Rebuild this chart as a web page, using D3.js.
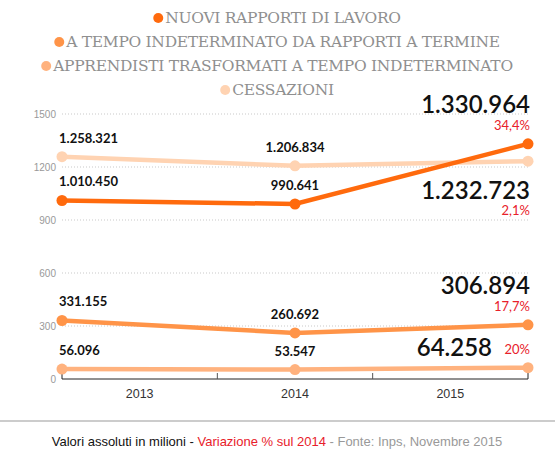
<!DOCTYPE html>
<html><head><meta charset="utf-8">
<script src="https://cdn.jsdelivr.net/npm/d3@7"></script>
<style>
body{margin:0;background:#fff;}
text{font-family:Lato,"Open Sans",sans-serif;}
</style></head>
<body><svg id="c" width="555" height="460"></svg>
<script>
const years = ['2013', '2014', '2015'];
const seriesNames = ['NUOVI RAPPORTI DI LAVORO', 'A TEMPO INDETERMINATO DA RAPPORTI A TERMINE', 'APPRENDISTI TRASFORMATI A TEMPO INDETERMINATO', 'CESSAZIONI'];
const nuovi = [1010.450, 990.641, 1330.964];
const indeterminato = [331.155, 260.692, 306.894];
const apprendisti = [56.096, 53.547, 64.258];
const cessazioni = [1258.321, 1206.834, 1232.723];
const labels = [
  ['1.010.450', '990.641', '1.330.964'],
  ['331.155', '260.692', '306.894'],
  ['56.096', '53.547', '64.258'],
  ['1.258.321', '1.206.834', '1.232.723']
];
const pct = ['34,4%', '17,7%', '20%', '2,1%'];
const colors = ['#ff6a0d', '#ff9448', '#ffb27e', '#ffd3b2'];
const yTicks = [0, 300, 600, 900, 1200, 1500];

const svg = d3.select('#c');
const x = d3.scalePoint().domain(years).range([62, 528]);
const y = d3.scaleLinear().domain([0, 1500]).range([379, 114]);

// legend
seriesNames.forEach((n, i) => {
  const g = svg.append('g');
  const t = g.append('text').attr('x', 283).attr('y', 23 + i * 24)
    .attr('text-anchor', 'middle').attr('fill', '#8f8f8f')
    .style('font-family', '"DejaVu Serif","Liberation Serif",serif').style('font-size', '15.5px')
    .style('letter-spacing', '-0.3px')
    .text(n);
  const w = t.node().getComputedTextLength();
  g.append('circle').attr('cx', 283 - w / 2 - 7).attr('cy', 18 + i * 24).attr('r', 5).attr('fill', colors[i]);
});

// grid
yTicks.slice(1).forEach(v => {
  svg.append('line').attr('x1', 62).attr('x2', 528).attr('y1', y(v)).attr('y2', y(v))
    .attr('stroke', '#bbb').attr('stroke-dasharray', '1,2').attr('stroke-width', 0.8);
});
yTicks.forEach(v => {
  svg.append('text').attr('x', 56).attr('y', y(v) + 4).attr('text-anchor', 'end')
    .attr('fill', '#999').style('font-family', 'Arial,"Liberation Sans",sans-serif').style('font-size', '10px').text(v);
});

// x axis
const ax = svg.append('g');
ax.append('path').attr('d', `M62,${y(0) - 6}V${y(0)}H528V${y(0) - 6}`).attr('fill', 'none').attr('stroke', '#222');
[1, 2].forEach(k => {
  const xx = 62 + k * (466 / 3);
  ax.append('line').attr('x1', xx).attr('x2', xx).attr('y1', y(0) - 6).attr('y2', y(0)).attr('stroke', '#555');
});
years.forEach((yr, k) => {
  ax.append('text').attr('x', 62 + (k + 0.5) * (466 / 3)).attr('y', y(0) + 19).attr('text-anchor', 'middle')
    .attr('fill', '#333').style('font-family', 'Arial,"Liberation Sans",sans-serif').style('font-size', '12.5px').text(yr);
});

// lines
const allSeries = [nuovi, indeterminato, apprendisti, cessazioni];
const line = d3.line().x((d, i) => x(years[i])).y(d => y(d));
[3, 2, 1, 0].forEach(i => {
  svg.append('path').attr('d', line(allSeries[i])).attr('fill', 'none')
    .attr('stroke', colors[i]).attr('stroke-width', 4.5);
  allSeries[i].forEach((v, k) => {
    svg.append('circle').attr('cx', x(years[k])).attr('cy', y(v)).attr('r', 5.5).attr('fill', colors[i]);
  });
});

// value labels for 2013, 2014
allSeries.forEach((s, i) => {
  [0, 1].forEach(k => {
    svg.append('text').attr('x', k === 0 ? x(years[k]) - 3 : x(years[k]))
      .attr('y', y(s[k]) - 14).attr('text-anchor', k === 0 ? 'start' : 'middle')
      .attr('fill', '#111').style('font-weight', 'bold').style('font-size', '13px').text(labels[i][k]);
  });
});

// 2015 labels
const bigStyle = t => t.attr('fill', '#111').style('font-weight', '600').style('font-size', '24px');
const big = (txt, yy, p, py) => {
  bigStyle(svg.append('text').attr('x', 530).attr('y', yy).attr('text-anchor', 'end')).text(txt);
  svg.append('text').attr('x', 530).attr('y', py).attr('text-anchor', 'end').attr('fill', '#e8202a')
    .style('font-size', '13px').text(p);
};
big(labels[0][2], y(nuovi[2]) - 31, pct[0], y(nuovi[2]) - 14);
big(labels[3][2], y(cessazioni[2]) + 38, pct[3], y(cessazioni[2]) + 54);
big(labels[1][2], y(indeterminato[2]) - 31, pct[1], y(indeterminato[2]) - 14);
bigStyle(svg.append('text').attr('x', 492).attr('y', y(apprendisti[2]) - 12).attr('text-anchor', 'end'))
  .text(labels[2][2]);
svg.append('text').attr('x', 530).attr('y', y(apprendisti[2]) - 14).attr('text-anchor', 'end').attr('fill', '#e8202a')
  .style('font-size', '13px').text(pct[2]);

// footer
svg.append('line').attr('x1', 0).attr('x2', 555).attr('y1', 421).attr('y2', 421).attr('stroke', '#bbb').attr('stroke-width', 1.5);
const ft = svg.append('text').attr('x', 277).attr('y', 446).attr('text-anchor', 'middle')
  .style('font-family', 'Arial,"Liberation Sans",sans-serif').style('font-size', '13px');
ft.append('tspan').attr('fill', '#111').text('Valori assoluti in milioni - ');
ft.append('tspan').attr('fill', '#e8202a').text('Variazione % sul 2014');
ft.append('tspan').attr('fill', '#999').text(' - Fonte: Inps, Novembre 2015');
</script></body></html>
